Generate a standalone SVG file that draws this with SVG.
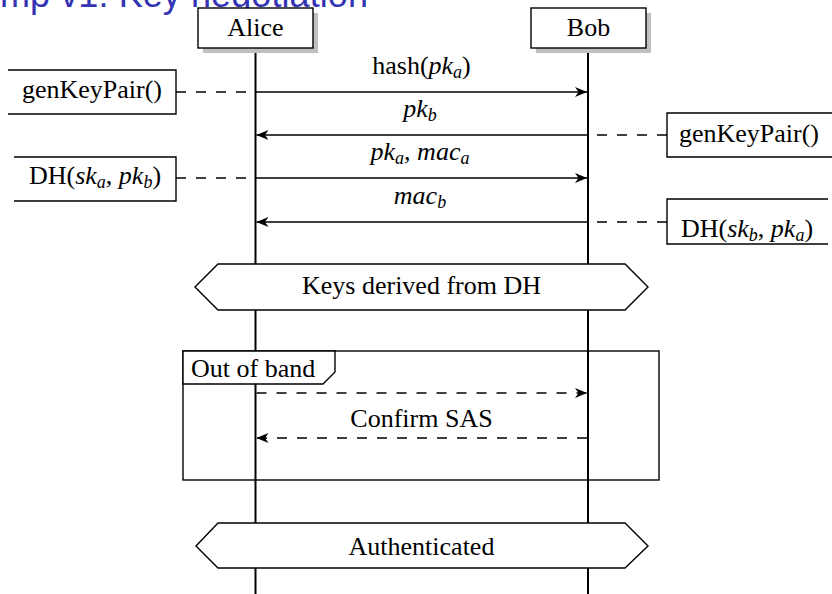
<svg xmlns="http://www.w3.org/2000/svg" width="832" height="594" viewBox="0 0 832 594">
<style>
  text { font-family: "Liberation Serif", "Times New Roman", serif; font-size: 26px; fill: #000; }
  .c { text-anchor: middle; }
  .it { font-style: italic; }
  .sub { font-style: italic; font-size: 18px; }
  .title { font-family: "Liberation Sans", Arial, sans-serif; font-size: 36px; fill: #3333B3; }
  .box { fill: #fff; stroke: #000; stroke-width: 1.4; }
  .shadow { fill: #c0c0c0; stroke: none; }
  .life { stroke: #000; stroke-width: 2; fill: none; }
  .msg { stroke: #000; stroke-width: 1.4; fill: none; }
  .dash { stroke: #000; stroke-width: 1.4; fill: none; stroke-dasharray: 10 10; }
  .open { fill: none; stroke: #000; stroke-width: 1.4; }
</style>
<defs>
  <marker id="ah" markerUnits="userSpaceOnUse" markerWidth="12" markerHeight="10" viewBox="0 0 12 10" refX="12" refY="5" orient="auto">
    <path d="M0,0 L12,5 L0,10 L3.5,5 z" fill="#000"/>
  </marker>
</defs>
<rect width="832" height="594" fill="#fff"/>
<text class="title" x="0" y="7" textLength="368" lengthAdjust="spacing">mp v1: Key negotiation</text>

<g id="lifelines">
  <line class="life" x1="255.5" y1="48" x2="255.5" y2="594"/>
  <line class="life" x1="588" y1="48" x2="588" y2="594"/>
</g>

<g id="alice">
  <rect class="shadow" x="203" y="13" width="115" height="40"/>
  <rect class="box" x="198" y="8" width="115" height="40"/>
  <text class="c" x="255.5" y="36">Alice</text>
</g>
<g id="bob">
  <rect class="shadow" x="536" y="13" width="115" height="40"/>
  <rect class="box" x="531" y="8" width="115" height="40"/>
  <text class="c" x="588.5" y="36">Bob</text>
</g>

<g id="alice-genkeypair">
  <path class="open" d="M8,70 H176 V114 H8"/>
  <text class="c" x="92" y="98">genKeyPair()</text>
</g>
<g id="alice-dh">
  <path class="open" d="M14,157 H176 V201 H14"/>
  <text class="c" x="95" y="184">DH(<tspan class="it">sk</tspan><tspan class="sub" dy="4">a</tspan><tspan dy="-4">, </tspan><tspan class="it">pk</tspan><tspan class="sub" dy="4">b</tspan><tspan dy="-4">)</tspan></text>
</g>
<g id="bob-genkeypair">
  <path class="open" d="M833,113 H667 V157 H833"/>
  <text class="c" x="749" y="142">genKeyPair()</text>
</g>
<g id="bob-dh">
  <path class="open" d="M828,199 H667 V244 H828"/>
  <text class="c" x="747" y="237">DH(<tspan class="it">sk</tspan><tspan class="sub" dy="4">b</tspan><tspan dy="-4">, </tspan><tspan class="it">pk</tspan><tspan class="sub" dy="4">a</tspan><tspan dy="-4">)</tspan></text>
</g>

<g id="keys-derived">
  <polygon class="box" points="195,287 218,264 625,264 648,287 625,310 218,310"/>
  <text class="c" x="421.5" y="294">Keys derived from DH</text>
</g>

<g id="out-of-band">
  <rect class="open" x="183" y="351" width="476" height="129"/>
  <polygon class="box" points="183,351 335,351 335,372 323,384 183,384"/>
  <text x="191" y="377">Out of band</text>
</g>

<g id="authenticated">
  <polygon class="box" points="196,546 218,523 625,523 648,546 625,568 218,568"/>
  <text class="c" x="421.5" y="555">Authenticated</text>
</g>

<g id="connectors">
  <line class="dash" x1="176" y1="92" x2="255.5" y2="92"/>
  <line class="msg" x1="255.5" y1="92" x2="587" y2="92" marker-end="url(#ah)"/>
  <line class="dash" x1="667" y1="135" x2="588" y2="135"/>
  <line class="msg" x1="588" y1="135" x2="256.5" y2="135" marker-end="url(#ah)"/>
  <line class="dash" x1="176" y1="178" x2="255.5" y2="178"/>
  <line class="msg" x1="255.5" y1="178" x2="587" y2="178" marker-end="url(#ah)"/>
  <line class="dash" x1="667" y1="222" x2="588" y2="222"/>
  <line class="msg" x1="588" y1="222" x2="256.5" y2="222" marker-end="url(#ah)"/>
  <line class="dash" x1="256.5" y1="393" x2="587" y2="393" marker-end="url(#ah)"/>
  <line class="dash" x1="587" y1="438" x2="256.5" y2="438" marker-end="url(#ah)"/>
</g>

<g id="labels">
  <text class="c" x="421.5" y="74">hash(<tspan class="it">pk</tspan><tspan class="sub" dy="4">a</tspan><tspan dy="-4">)</tspan></text>
  <text class="c" x="420" y="117"><tspan class="it">pk</tspan><tspan class="sub" dy="4">b</tspan></text>
  <text class="c" x="420" y="160"><tspan class="it">pk</tspan><tspan class="sub" dy="4">a</tspan><tspan dy="-4">, </tspan><tspan class="it">mac</tspan><tspan class="sub" dy="4">a</tspan></text>
  <text class="c" x="420" y="204"><tspan class="it">mac</tspan><tspan class="sub" dy="4">b</tspan></text>
  <text class="c" x="421.5" y="427">Confirm SAS</text>
</g>
</svg>
